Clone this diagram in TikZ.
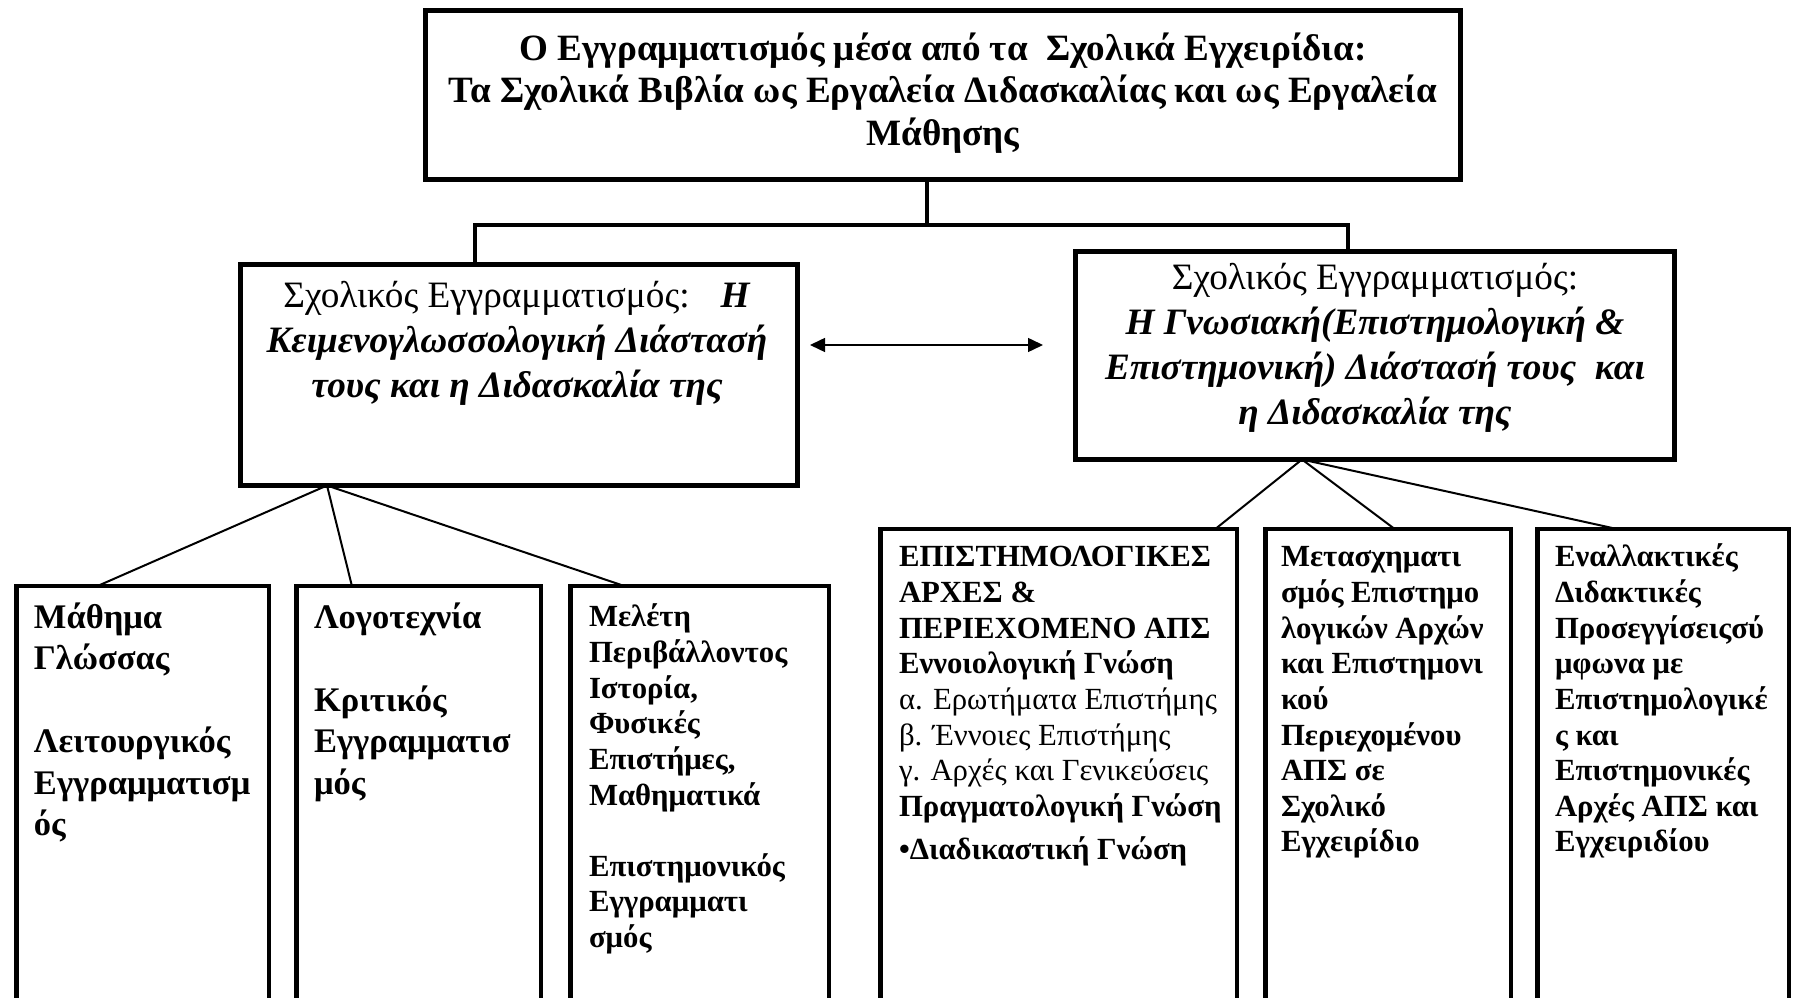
\documentclass[tikz,border=0pt]{standalone}
\usepackage{fontspec}
\setmainfont{Liberation Serif}
\usetikzlibrary{arrows.meta}
\newcommand{\titlef}{\fontsize{14.85pt}{17pt}\selectfont}
\newcommand{\midf}{\fontsize{14.9pt}{18pt}\selectfont}
\newcommand{\bigf}{\fontsize{13.8pt}{16.6pt}\selectfont}
\newcommand{\smallf}{\fontsize{12.3pt}{14.25pt}\selectfont}
\tikzset{
  mainbox/.style={draw, rectangle, line width=2pt, inner sep=0pt, outer sep=0pt},
  botbox/.style={draw, rectangle, line width=1.8pt, inner sep=0pt, outer sep=0pt, anchor=north west},
  barline/.style={line width=1.6pt},
  thinline/.style={line width=0.8pt},
  dblarrow/.style={line width=0.6pt, {Triangle[length=6pt,width=5.6pt]}-{Triangle[length=6pt,width=5.6pt]}},
  titletxt/.style={inner sep=0pt, outer sep=0pt, font=\titlef\bfseries, anchor=north, align=center},
  midtxt/.style={inner sep=0pt, outer sep=0pt, font=\midf, anchor=north, align=center},
  bigtxt/.style={inner sep=0pt, outer sep=0pt, font=\bigf\bfseries, anchor=north west, align=left},
  smalltxt/.style={inner sep=0pt, outer sep=0pt, font=\smallf, anchor=north west, align=left},
  smallbold/.style={smalltxt, font=\smallf\bfseries},
}
\begin{document}
\begin{tikzpicture}[x=0.4pt,y=-0.4pt]
\useasboundingbox (0,0) rectangle (1796,998);
\clip (0,0) rectangle (1796,998);
% main boxes
\node[mainbox, minimum width=414pt, minimum height=67.6pt] (top) at (943,95) {};
\node[mainbox, minimum width=222.8pt, minimum height=88.4pt] (lm) at (519,375) {};
\node[mainbox, minimum width=239.6pt, minimum height=83.2pt] (rm) at (1375,355.5) {};
% bottom boxes
\node[botbox, minimum width=101pt, minimum height=169.6pt] (b1) at (16.25,586.25) {};
\node[botbox, minimum width=97.8pt, minimum height=169.6pt] (b2) at (296.25,586.25) {};
\node[botbox, minimum width=103.4pt, minimum height=169.6pt] (b3) at (570.25,586.25) {};
\node[botbox, minimum width=142.6pt, minimum height=192.4pt] (b4) at (880.25,529.25) {};
\node[botbox, minimum width=98.2pt, minimum height=192.4pt] (b5) at (1265.25,529.25) {};
\node[botbox, minimum width=100.6pt, minimum height=192.4pt] (b6) at (1537.25,529.25) {};
% texts
\node[titletxt] (ttop) at (943,30.5)
  {\strut Ο Εγγραμματισμός μέσα από τα~ Σχολικά Εγχειρίδια:\\
   Τα Σχολικά Βιβλία ως Εργαλεία Διδασκαλίας και ως Εργαλεία\\
   Μάθησης};
\node[midtxt] (tlm) at (517,276.5)
  {\strut Σχολικός Εγγραμματισμός:~~ \textbf{\textit{Η}}\\
   \textbf{\textit{Κειμενογλωσσολογική Διάστασή}}\\
   \textbf{\textit{τους και η Διδασκαλία της}}};
\node[midtxt] (trm) at (1375,258.5)
  {\strut Σχολικός Εγγραμματισμός:\\
   \textbf{\textit{Η Γνωσιακή(Επιστημολογική \&}}\\
   \textbf{\textit{Επιστημονική) Διάστασή τους~ και}}\\
   \textbf{\textit{η Διδασκαλία της}}};
\node[bigtxt] (tb1) at (34,599)
  {\strut Μάθημα\\ Γλώσσας\\ \mbox{}\\ Λειτουργικός\\ Εγγραμματισμ\\ ός};
\node[bigtxt] (tb2) at (314,599)
  {\strut Λογοτεχνία\\ \mbox{}\\ Κριτικός\\ Εγγραμματισ\\ μός};
\node[smallbold] (tb3) at (589,602)
  {\strut Μελέτη\\ Περιβάλλοντος\\ Ιστορία,\\ Φυσικές\\ Επιστήμες,\\ Μαθηματικά\\ \mbox{}\\ Επιστημονικός\\ Εγγραμματι\\ σμός};
\node[smalltxt] (tb4) at (899,542)
  {\strut\textbf{ΕΠΙΣΤΗΜΟΛΟΓΙΚΕΣ}\\ \textbf{ΑΡΧΕΣ \&}\\ \textbf{ΠΕΡΙΕΧΟΜΕΝΟ ΑΠΣ}\\ \textbf{Εννοιολογική Γνώση}\\
   α. Ερωτήματα Επιστήμης\\ β. Έννοιες Επιστήμης\\ γ. Αρχές και Γενικεύσεις\\ \textbf{Πραγματολογική Γνώση}\\[3pt]
   \textbf{•Διαδικαστική Γνώση}};
\node[smallbold] (tb5) at (1281,542)
  {\strut Μετασχηματι\\ σμός Επιστημο\\ λογικών Αρχών\\ και Επιστημονι\\ κού\\ Περιεχομένου\\ ΑΠΣ σε\\ Σχολικό\\ Εγχειρίδιο};
\node[smallbold] (tb6) at (1555,542)
  {\strut Εναλλακτικές\\ Διδακτικές\\ Προσεγγίσειςσύ\\ μφωνα με\\ Επιστημολογικέ\\ ς και\\ Επιστημονικές\\ Αρχές ΑΠΣ και\\ Εγχειριδίου};
% connectors
\coordinate (stemX) at (927,225);
\coordinate (barL) at (475,225);
\coordinate (barR) at (1348,225);
\draw[barline] (top.south -| stemX) -- (stemX);
\draw[barline] (lm.north -| barL) -- (barL) -- (barR) -- (rm.north -| barR);
\coordinate (da) at (810,345);
\coordinate (db) at (1043,345);
\draw[dblarrow] (da) -- (db);
\coordinate (apL) at (327,0);
\coordinate (e1) at (97,0);
\coordinate (e2) at (352,0);
\coordinate (e3) at (625,0);
\draw[thinline] (lm.south -| apL) -- (b1.north -| e1);
\draw[thinline] (lm.south -| apL) -- (b2.north -| e2);
\draw[thinline] (lm.south -| apL) -- (b3.north -| e3);
\coordinate (apR) at (1302,0);
\coordinate (e4) at (1215,0);
\coordinate (e5) at (1395,0);
\coordinate (e6) at (1618,0);
\draw[thinline] (rm.south -| apR) -- (b4.north -| e4);
\draw[thinline] (rm.south -| apR) -- (b5.north -| e5);
\draw[thinline] (rm.south -| apR) -- (b6.north -| e6);
\end{tikzpicture}
\end{document}
